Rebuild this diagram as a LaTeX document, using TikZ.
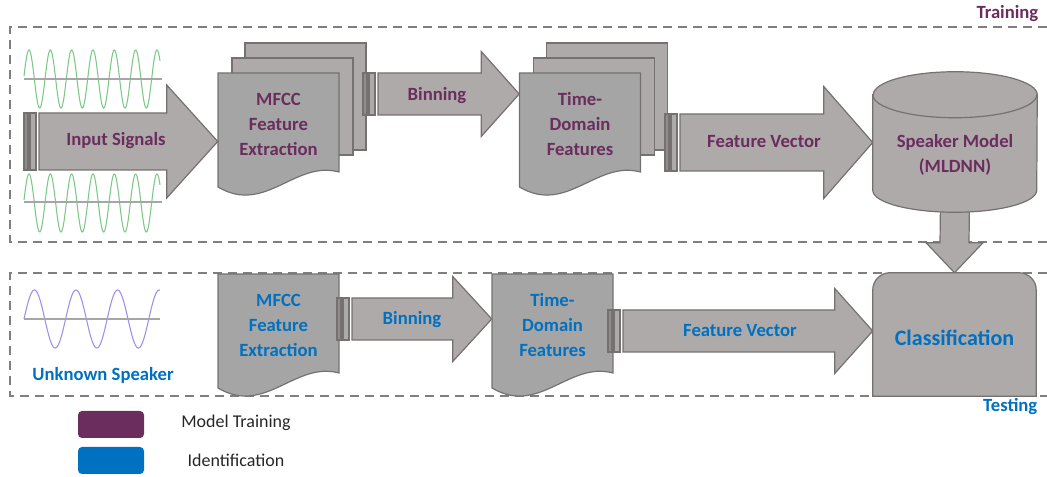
\documentclass[tikz,border=0pt]{standalone}
\usepackage{fontspec}
\setmainfont{Carlito}
\usetikzlibrary{calc, positioning, shapes.geometric}
\definecolor{TrainPurple}{RGB}{107, 45, 94}
\definecolor{TestBlue}{RGB}{0, 112, 192}
\definecolor{ArrowGrey}{RGB}{174, 170, 170}
\definecolor{PageGrey}{RGB}{165, 165, 165}
\definecolor{EdgeGrey}{RGB}{118, 113, 113}
\definecolor{FrameGrey}{RGB}{127, 127, 127}
\definecolor{WaveGreen}{RGB}{125, 200, 135}
\definecolor{WaveViolet}{RGB}{160, 140, 240}
\definecolor{AxisGrey}{RGB}{166, 166, 166}

\pgfdeclarelayer{background}
\pgfsetlayers{background,main}

% back sheets of a document stack, round the text node #1
\newcommand{\sheets}[1]{%
  \draw[sheet] ($(#1)+(-33.5,-81)$) rectangle ($(#1)+(87.5,26)$);
  \draw[sheet] ($(#1)+(-46.5,-66)$) rectangle ($(#1)+(74.5,31)$);}
% front sheet with the wavy lower edge
\newcommand{\frontsheet}[1]{%
  \draw[docsheet] ($(#1)+(-60.5,-51)$) -- ($(#1)+(60.5,-51)$) -- ($(#1)+(60.5,48)$)
    .. controls ($(#1)+(16.5,36)$) and ($(#1)+(-13.5,91)$) .. ($(#1)+(-60.5,63)$) -- cycle;}
% striped block arrow: #1 tail, #2 tip, #3 half shaft, #4 half head, #5 head length
\newcommand{\fatarrow}[5]{%
  \draw[blockarrow, fill=EdgeGrey!80] ($(#1)+(-15,-#3)$) rectangle ($(#1)+(-11,#3)$);
  \draw[blockarrow] ($(#1)+(-9,-#3)$) rectangle ($(#1)+(-3,#3)$);
  \draw[blockarrow] ($(#1)+(0,-#3)$) -- ($(#2)+(-#5,-#3)$) -- ($(#2)+(-#5,-#4)$) -- (#2)
    -- ($(#2)+(-#5,#4)$) -- ($(#2)+(-#5,#3)$) -- ($(#1)+(0,#3)$) -- cycle;}

\begin{document}
\begin{tikzpicture}[
    x=0.75pt, y=-0.75pt,
    stage/.style={font=\bfseries\fontsize{14}{18.75}\selectfont, align=center, inner sep=0pt, minimum width=90.75pt},
    train/.style={text=TrainPurple},
    test/.style={text=TestBlue},
    sheet/.style={fill=ArrowGrey, draw=EdgeGrey, line width=0.9pt},
    docsheet/.style={fill=PageGrey, draw=EdgeGrey, line width=0.9pt},
    blockarrow/.style={fill=ArrowGrey, draw=EdgeGrey, line width=0.9pt, line join=miter},
    frame/.style={draw=FrameGrey, line width=1.5pt, dash pattern=on 6.75pt off 4.5pt},
    wave/.style={line width=0.8pt, samples=300, smooth},
    axis/.style={draw=AxisGrey, line width=2pt},
    tag/.style={font=\bfseries\fontsize{14}{16}\selectfont, anchor=east},
    legendbox/.style={rounded corners=3pt, minimum width=49.5pt, minimum height=20.25pt, inner sep=0pt},
    legendtext/.style={font=\fontsize{13.5}{15}\selectfont, text=black!85}
]
\useasboundingbox (0,0) rectangle (1047,477);

% frames
\begin{pgfonlayer}{background}
\draw[frame] (1047,27) -- (10,27) -- (10,242) -- (1047,242);
\draw[frame] (1047,273) -- (10,273) -- (10,396) -- (1047,396);
\end{pgfonlayer}
\node[tag, text=TrainPurple] (trainTag) at (1043,14) {Training};
\node[tag, text=TestBlue] (testTag) at (1042,407) {Testing};

% input signals
\draw[wave, WaveGreen] plot[domain=24:160] (\x, {79-29*cos(16.878*(\x-29))});
\draw[axis] (24,79) -- (162,79);
\draw[wave, WaveGreen] plot[domain=24:160] (\x, {203-29*cos(16.878*(\x-29))});
\draw[axis] (24,202) -- (162,202);
% unknown speaker
\draw[wave, WaveViolet] plot[domain=24:160] (\x, {319-29*sin(8.654*(\x-24))});
\draw[axis] (24,319) -- (160,319);
\node[stage, test, font=\bfseries\fontsize{14}{16}\selectfont] (unknown) at (103,375) {Unknown Speaker};

% stages
\node[stage, train] (mfccA) at (278.5,124) {MFCC\\Feature\\Extraction};
\node[stage, train] (timeA) at (580,124) {Time-\\Domain\\Features};
\node[stage, test] (mfccB) at (278.5,325) {MFCC\\Feature\\Extraction};
\node[stage, test] (timeB) at (552.5,325) {Time-\\Domain\\Features};
\node[minimum width=123pt, minimum height=105pt, inner sep=0pt,
      label={[stage, train, yshift=-9.5pt]center:Speaker Model\\(MLDNN)}] (spk) at (955,142) {};
\node[stage, test, font=\bfseries\fontsize{16.5}{20}\selectfont, text height=17pt,
      minimum width=122.25pt, minimum height=92.25pt] (cls) at (954.5,334.5) {Classification};

\coordinate (sigTail) at (39,141.5);
\coordinate (sigTip) at (mfccA.west |- sigTail);
\coordinate (binATail) at (378,94);
\coordinate (binATip) at (timeA.west |- binATail);
\coordinate (featATail) at (680,142.5);
\coordinate (featATip) at (spk.west |- featATail);
\coordinate (binBTail) at (352,319);
\coordinate (binBTip) at (timeB.west |- binBTail);
\coordinate (featBTail) at (623,331);
\coordinate (featBTip) at (cls.west |- featBTail);

\begin{pgfonlayer}{background}
\sheets{mfccA} \frontsheet{mfccA}
\sheets{timeA} \frontsheet{timeA}
\frontsheet{mfccB}
\frontsheet{timeB}
\fatarrow{sigTail}{sigTip}{28.5}{56.5}{51}
\fatarrow{binATail}{binATip}{21}{42.5}{38}
\fatarrow{featATail}{featATip}{28.5}{56}{49}
\fatarrow{binBTail}{binBTip}{21}{42.5}{39}
\fatarrow{featBTail}{featBTip}{21}{42.5}{38}
% model feeds the classifier
\draw[blockarrow] ($(spk.south)+(-14.5,-10)$) -- ($(cls.north)+(-14.5,-30)$) -- ($(cls.north)+(-28.5,-30)$)
  -- (cls.north) -- ($(cls.north)+(28.5,-30)$) -- ($(cls.north)+(14.5,-30)$) -- ($(spk.south)+(14.5,-10)$);
% speaker model drum
\draw[blockarrow] ($(spk.north west)+(0,23)$) -- ($(spk.south west)+(0,-22)$)
  arc[start angle=180, end angle=0, x radius=82, y radius=22] -- ($(spk.north east)+(0,23)$)
  arc[start angle=0, end angle=-180, x radius=82, y radius=23] -- cycle;
\draw[blockarrow, fill=none] ($(spk.north west)+(0,23)$) arc[start angle=180, end angle=0, x radius=82, y radius=23];
\draw[blockarrow] (cls.south west) [rounded corners=13pt] -- (cls.north west) -- (cls.north east)
  [sharp corners] -- (cls.south east) -- cycle;
\end{pgfonlayer}

% arrow texts
\node[stage, train] (sigLabel) at (116,141) {Input Signals};
\node[stage, train] (binALabel) at (437,96) {Binning};
\node[stage, train] (featALabel) at (764,142) {Feature Vector};
\node[stage, test] (binBLabel) at (412,320) {Binning};
\node[stage, test] (featBLabel) at (740,331) {Feature Vector};

% legend
\node[legendbox, fill=TrainPurple] (keyTrain) at (111,424.5) {};
\node[legendbox, fill=TestBlue] (keyTest) at (111,460.5) {};
\node[legendtext] (keyTrainText) at (236,423) {Model Training};
\node[legendtext] (keyTestText) at (236,460) {Identification};
\end{tikzpicture}
\end{document}
